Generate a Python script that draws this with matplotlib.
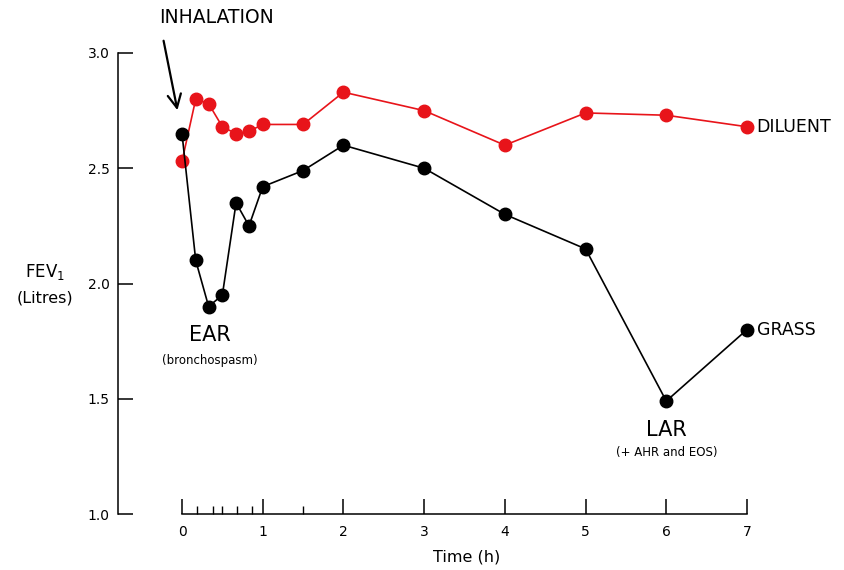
import matplotlib.pyplot as plt

plt.rcParams['font.family'] = ['DejaVu Sans']

time_h = [0, 0.17, 0.33, 0.5, 0.67, 0.83, 1, 1.5, 2, 3, 4, 5, 6, 7]
grass = [2.65, 2.10, 1.90, 1.95, 2.35, 2.25, 2.42, 2.49, 2.60, 2.50, 2.30, 2.15, 1.49, 1.80]
diluent = [2.53, 2.80, 2.78, 2.68, 2.65, 2.66, 2.69, 2.69, 2.83, 2.75, 2.60, 2.74, 2.73, 2.68]
major_ticks = [0, 1, 2, 3, 4, 5, 6, 7]
minor_ticks = [0.19, 0.38, 0.5, 0.68, 0.87, 1.5]
y_ticks = [1.0, 1.5, 2.0, 2.5, 3.0]

fig = plt.figure(figsize=(8.44, 5.70), dpi=100)
ax = fig.add_axes([118/844, 56/570, 629/844, 461/570])

ax.plot(time_h, diluent, color='#e8141a', lw=1.2, marker='o', ms=9, clip_on=False, zorder=3)
ax.plot(time_h, grass, color='black', lw=1.2, marker='o', ms=9, clip_on=False, zorder=4)

ax.set_xlim(-0.793, 7.0)
ax.set_ylim(1.0, 3.0)

for s in ['top', 'right']:
    ax.spines[s].set_visible(False)
ax.spines['left'].set_bounds(1.0, 3.0)
ax.spines['bottom'].set_bounds(0, 7)
ax.spines['left'].set_linewidth(1.1)
ax.spines['bottom'].set_linewidth(1.1)

ax.set_yticks(y_ticks)
ax.set_yticklabels([f'{v:.1f}' for v in y_ticks])
ax.set_xticks(major_ticks)
ax.set_xticks(minor_ticks, minor=True)
ax.tick_params(axis='both', which='major', direction='in', length=11, width=1.1, labelsize=10)
ax.tick_params(axis='x', which='major', pad=8)
ax.tick_params(axis='y', which='major', pad=6)
ax.tick_params(axis='x', which='minor', direction='in', length=6, width=1)

fig.text(467/844, 1 - 557/570, 'Time (h)', fontsize=11.5, ha='center', va='center')
fig.text(45/844, 1 - 272/570, r'FEV$_\mathregular{1}$', fontsize=12, ha='center', va='center')
fig.text(45/844, 1 - 298/570, '(Litres)', fontsize=11.5, ha='center', va='center')

ax.text(0.43, 3.152, 'INHALATION', fontsize=13.5, ha='center', va='center')
ax.annotate('', xy=(-0.05, 2.74), xytext=(-0.235, 3.065),
            arrowprops=dict(arrowstyle='->', color='black', lw=1.6, mutation_scale=24))
ax.text(0.35, 1.777, 'EAR', fontsize=15, ha='center', va='center')
ax.text(0.35, 1.668, '(bronchospasm)', fontsize=8.5, ha='center', va='center')
ax.text(6.0, 1.364, 'LAR', fontsize=15, ha='center', va='center')
ax.text(6.0, 1.265, '(+ AHR and EOS)', fontsize=8.5, ha='center', va='center')
ax.text(7.12, 2.68, 'DILUENT', fontsize=12.5, ha='left', va='center', clip_on=False)
ax.text(7.12, 1.80, 'GRASS', fontsize=12.5, ha='left', va='center', clip_on=False)

fig.savefig('out.png', dpi=100)
